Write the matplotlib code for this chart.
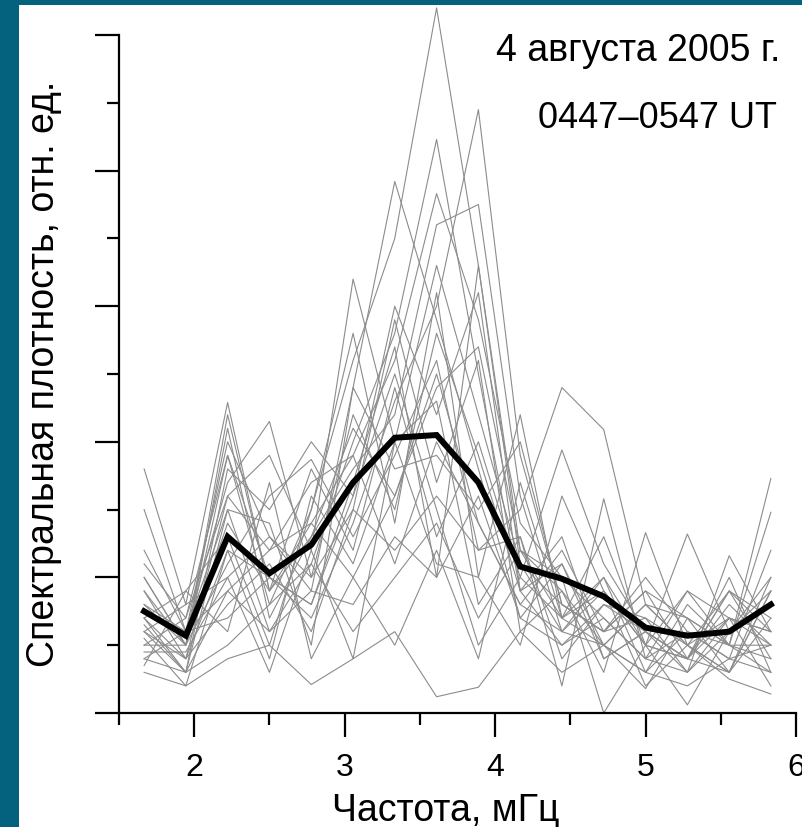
import matplotlib
matplotlib.use("Agg")
import matplotlib.pyplot as plt
from matplotlib.patches import Rectangle
from matplotlib.ticker import MultipleLocator, NullFormatter

plt.rcParams['font.family'] = ['Liberation Sans', 'DejaVu Sans']

# Frequencies, mHz
freq = [1.667, 1.944, 2.222, 2.500, 2.778, 3.056, 3.333, 3.611,
        3.889, 4.167, 4.444, 4.722, 5.000, 5.278, 5.556, 5.833]

# Individual spectra (relative units)
s01 = [0.9, 0.5, 1.9, 0.8, 1.5, 2.6, 3.5, 5.2, 3.3, 1.2, 0.7, 0.9, 0.5, 0.4, 0.7, 0.6]
s02 = [0.6, 0.4, 1.2, 1.0, 0.7, 1.4, 2.3, 3.0, 4.45, 1.9, 0.8, 0.6, 0.7, 0.5, 0.3, 0.9]
s03 = [0.7, 0.3, 1.5, 0.6, 1.1, 2.0, 2.8, 4.23, 2.5, 0.9, 1.1, 0.5, 0.3, 0.6, 0.4, 0.5]
s04 = [1.2, 0.6, 2.0, 1.3, 0.9, 2.4, 3.92, 2.9, 1.8, 0.7, 0.5, 0.8, 0.6, 0.4, 0.9, 0.7]
s05 = [0.5, 0.7, 1.6, 1.9, 1.2, 3.2, 2.0, 3.3, 2.2, 1.1, 0.6, 0.5, 0.8, 0.7, 0.5, 0.4]
s06 = [0.4, 0.6, 0.9, 1.2, 1.7, 1.9, 2.6, 3.83, 2.9, 1.4, 1.0, 0.7, 0.4, 0.3, 0.6, 1.0]
s07 = [0.8, 0.5, 2.1, 0.7, 1.3, 1.8, 2.2, 3.6, 3.75, 1.6, 0.6, 0.9, 0.5, 0.9, 0.5, 0.3]
s08 = [0.6, 0.8, 1.0, 1.3, 1.0, 1.5, 1.2, 1.6, 1.2, 1.5, 2.40, 2.09, 0.8, 0.5, 0.7, 0.6]
s09 = [1.0, 0.5, 1.4, 0.9, 1.8, 1.2, 2.4, 1.3, 2.0, 1.0, 1.94, 1.1, 0.6, 0.4, 0.8, 0.5]
s10 = [1.8, 0.8, 2.29, 0.9, 1.4, 1.0, 1.6, 2.5, 1.4, 0.8, 1.2, 0.6, 0.9, 0.4, 0.3, 0.7]
s11 = [1.5, 0.6, 1.7, 2.15, 1.0, 2.2, 1.5, 2.8, 1.9, 0.9, 0.5, 0.7, 0.4, 0.6, 0.5, 1.73]
s12 = [0.3, 0.2, 0.4, 0.5, 0.21, 0.4, 0.6, 0.12, 0.19, 0.6, 0.3, 0.5, 0.3, 0.2, 0.4, 0.3]
s13 = [0.35, 0.9, 0.6, 1.7, 0.4, 1.0, 0.5, 1.2, 0.4, 1.7, 0.7, 1.3, 0.5, 1.32, 0.6, 0.9]
s14 = [0.6, 0.3, 1.8, 1.5, 2.0, 1.6, 3.0, 2.2, 3.1, 0.9, 1.3, 0.4, 0.6, 0.4, 1.0, 0.3]
s15 = [0.7, 0.9, 1.3, 0.5, 1.5, 2.8, 1.4, 3.1, 1.0, 2.2, 0.7, 1.0, 0.3, 0.8, 0.5, 1.48]
s16 = [0.9, 0.4, 0.8, 1.1, 0.6, 1.5, 2.9, 1.7, 2.6, 0.6, 0.9, 0.3, 1.33, 0.5, 0.9, 0.4]
s17 = [0.5, 0.5, 1.1, 1.6, 1.87, 1.3, 1.9, 2.6, 1.2, 1.3, 0.4, 0.8, 0.7, 0.3, 1.16, 0.6]
s18 = [0.65, 0.3, 0.5, 0.8, 1.1, 0.6, 1.0, 1.4, 0.7, 1.2, 1.0, 0.0, 0.5, 0.06, 0.6, 0.8]
s19 = [1.1, 0.7, 1.9, 1.0, 0.8, 1.7, 2.7, 1.0, 3.3, 1.1, 0.8, 0.6, 0.9, 0.7, 0.5, 0.5]
s20 = [0.45, 0.45, 1.0, 0.3, 1.2, 0.4, 2.0, 1.1, 1.0, 0.5, 1.6, 0.9, 0.2, 0.5, 0.25, 0.14]
s21 = [0.8, 0.6, 1.5, 1.4, 0.5, 2.4, 1.8, 1.9, 1.5, 2.0, 0.8, 0.6, 1.0, 0.6, 0.4, 1.2]
s22 = [0.55, 0.2, 1.2, 0.4, 1.6, 1.1, 2.0, 2.3, 0.8, 1.3, 0.2, 1.58, 0.4, 0.9, 0.7, 0.5]
s23 = [1.0, 0.5, 2.2, 0.9, 1.3, 2.1, 1.6, 2.4, 2.7, 1.2, 0.9, 0.5, 0.18, 0.7, 0.3, 1.0]
s24 = [0.4, 0.3, 0.9, 0.6, 0.9, 0.8, 1.3, 1.0, 1.6, 0.7, 1.1, 0.4, 0.6, 0.3, 0.7, 0.2]
s25 = [0.7, 0.4, 1.6, 1.2, 1.4, 1.9, 1.1, 2.0, 1.4, 0.8, 0.6, 1.0, 0.5, 0.4, 0.9, 0.6]
s26 = [0.75, 0.6, 0.7, 1.0, 0.8, 1.6, 2.5, 1.5, 0.5, 1.0, 0.7, 0.5, 0.8, 0.5, 0.3, 0.9]
spectra = [s01, s02, s03, s04, s05, s06, s07, s08, s09, s10, s11, s12, s13,
           s14, s15, s16, s17, s18, s19, s20, s21, s22, s23, s24, s25, s26]

# Averaged spectrum
mean_spec = [0.75, 0.57, 1.30, 1.03, 1.24, 1.70, 2.03, 2.05,
             1.70, 1.08, 0.99, 0.86, 0.63, 0.57, 0.60, 0.80]

x_ticks = [2, 3, 4, 5, 6]
x_tick_labels = ['2', '3', '4', '5', '6']

W, H = 803, 828
fig = plt.figure(figsize=(W / 100, H / 100), dpi=100)
fig.patch.set_facecolor('#05627e')
fig.patches.append(Rectangle((19 / W, 0), 1 - 19 / W, (H - 6) / H,
                             transform=fig.transFigure, facecolor='white',
                             edgecolor='none', zorder=-10))

ax = fig.add_axes([119 / W, 1 - 714 / H, (796 - 119) / W, (714 - 36) / H])
ax.set_facecolor('none')
ax.set_zorder(5)

for s in spectra:
    ax.plot(freq, s, color='#8c8c8c', lw=0.8, clip_on=False, zorder=2)
ax.plot(freq, mean_spec, color='black', lw=4.3, clip_on=False, zorder=3,
        solid_joinstyle='miter')

ax.set_xlim(1.5, 6)
ax.set_ylim(0, 5)
for side in ('top', 'right'):
    ax.spines[side].set_visible(False)
for side in ('left', 'bottom'):
    ax.spines[side].set_linewidth(1.6)

ax.set_xticks(x_ticks)
ax.set_xticklabels(x_tick_labels)
ax.xaxis.set_minor_locator(MultipleLocator(0.5))
ax.yaxis.set_major_locator(MultipleLocator(1))
ax.yaxis.set_minor_locator(MultipleLocator(0.5))
ax.yaxis.set_major_formatter(NullFormatter())
ax.tick_params(axis='both', which='major', direction='out', length=17,
               width=1.6, color='black')
ax.tick_params(axis='both', which='minor', direction='out', length=8.5,
               width=1.6, color='black')
ax.tick_params(axis='x', which='major', labelsize=23, pad=11)

fig.text(446 / W, 1 - 821 / H, 'Частота, мГц', fontsize=27,
         ha='center', va='baseline')
fig.text(44 / W, 1 - 374 / H, 'Спектральная плотность, отн. ед.',
         fontsize=27, rotation=90, ha='center', va='center')

fig.text(496 / W, 1 - 61 / H, '4 августа 2005 г.', fontsize=27,
         ha='left', va='baseline')
fig.text(538 / W, 1 - 128 / H, '0447–0547 UT', fontsize=26,
         ha='left', va='baseline')

fig.savefig('out.png', dpi=100, facecolor=fig.get_facecolor())
